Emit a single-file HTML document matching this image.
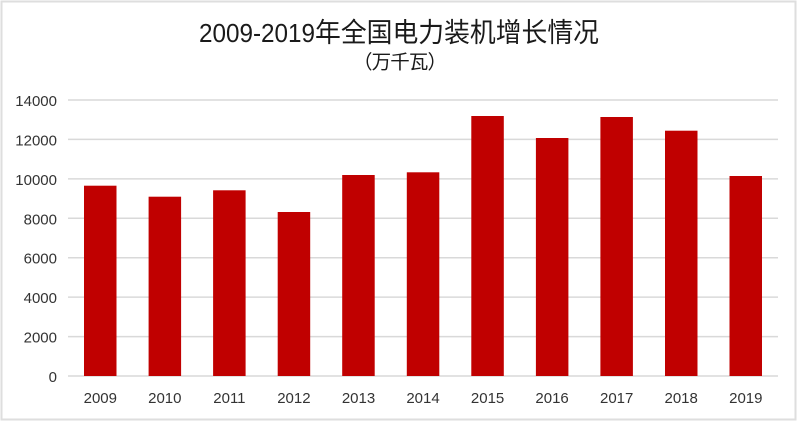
<!DOCTYPE html>
<html>
<head>
<meta charset="utf-8">
<style>
  html,body{margin:0;padding:0;background:#fff;}
  body{width:800px;height:423px;overflow:hidden;}
  svg{display:block;}
  .ax{font-family:"Liberation Sans","Noto Sans CJK SC",sans-serif;font-size:15px;fill:#333;}
</style>
</head>
<body>
<svg width="800" height="423" viewBox="0 0 800 423" xmlns="http://www.w3.org/2000/svg">
  <rect x="0" y="0" width="800" height="423" fill="#fff"/>
  <rect x="1.5" y="1.5" width="794" height="418" fill="none" stroke="#dedede" stroke-width="2"/>

  <!-- title -->
  <text x="199" y="42" font-family="'Liberation Sans',sans-serif" font-size="26" fill="#1a1a1a" textLength="116" lengthAdjust="spacingAndGlyphs">2009-2019</text>
  <text x="315" y="42" font-family="'Noto Sans CJK SC','WenQuanYi Zen Hei',sans-serif" font-size="27" fill="#1a1a1a" textLength="284" lengthAdjust="spacingAndGlyphs">年全国电力装机增长情况</text>
  <text x="353" y="68.5" font-family="'Noto Sans CJK SC','WenQuanYi Zen Hei',sans-serif" font-size="19.5" fill="#1a1a1a" textLength="94" lengthAdjust="spacing">（万千瓦）</text>

  <!-- gridlines -->
  <g stroke="#d9d9d9" stroke-width="1.5">
    <line x1="68" y1="100" x2="778" y2="100"/>
    <line x1="68" y1="139.4" x2="778" y2="139.4"/>
    <line x1="68" y1="178.9" x2="778" y2="178.9"/>
    <line x1="68" y1="218.3" x2="778" y2="218.3"/>
    <line x1="68" y1="257.7" x2="778" y2="257.7"/>
    <line x1="68" y1="297.1" x2="778" y2="297.1"/>
    <line x1="68" y1="336.6" x2="778" y2="336.6"/>
    <line x1="68" y1="376" x2="778" y2="376"/>
  </g>

  <!-- y labels -->
  <g class="ax" text-anchor="end">
    <text x="57" y="106">14000</text>
    <text x="57" y="145.4">12000</text>
    <text x="57" y="184.9">10000</text>
    <text x="57" y="224.3">8000</text>
    <text x="57" y="263.7">6000</text>
    <text x="57" y="303.1">4000</text>
    <text x="57" y="342.6">2000</text>
    <text x="57" y="382">0</text>
  </g>

  <!-- bars -->
  <g fill="#c00000">
    <rect x="84.0"  y="185.7" width="32.5" height="190.3"/>
    <rect x="148.6" y="196.7" width="32.5" height="179.3"/>
    <rect x="213.1" y="190.3" width="32.5" height="185.7"/>
    <rect x="277.7" y="212"   width="32.5" height="164"/>
    <rect x="342.2" y="175"   width="32.5" height="201"/>
    <rect x="406.8" y="172.3" width="32.5" height="203.7"/>
    <rect x="471.3" y="116"   width="32.5" height="260"/>
    <rect x="535.9" y="138"   width="32.5" height="238"/>
    <rect x="600.4" y="117"   width="32.5" height="259"/>
    <rect x="665.0" y="130.7" width="32.5" height="245.3"/>
    <rect x="729.5" y="176"   width="32.5" height="200"/>
  </g>

  <!-- x labels -->
  <g class="ax" text-anchor="middle">
    <text x="100.3" y="403">2009</text>
    <text x="164.8" y="403">2010</text>
    <text x="229.4" y="403">2011</text>
    <text x="293.9" y="403">2012</text>
    <text x="358.5" y="403">2013</text>
    <text x="423.0" y="403">2014</text>
    <text x="487.6" y="403">2015</text>
    <text x="552.1" y="403">2016</text>
    <text x="616.7" y="403">2017</text>
    <text x="681.2" y="403">2018</text>
    <text x="745.8" y="403">2019</text>
  </g>
</svg>
</body>
</html>
